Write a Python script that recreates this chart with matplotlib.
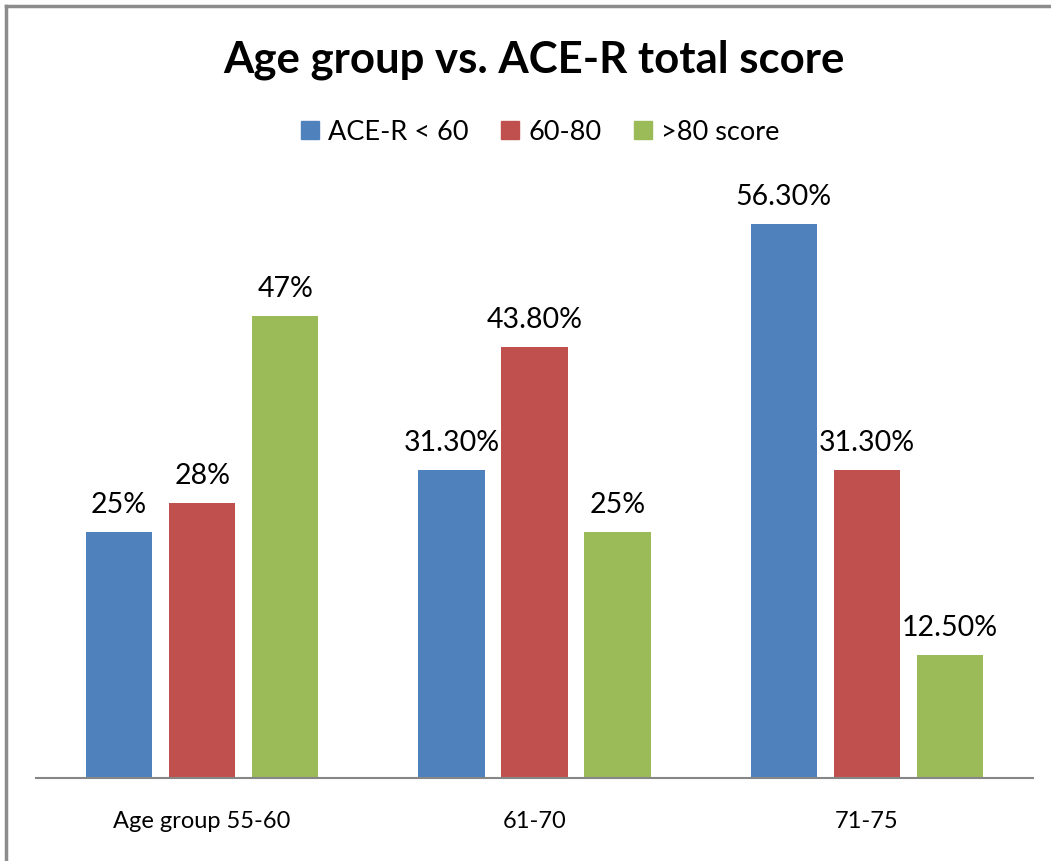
import matplotlib
matplotlib.use("Agg")
import matplotlib.pyplot as plt
import numpy as np
from matplotlib.lines import Line2D

categories = ["Age group 55-60", "61-70", "71-75"]
series_names = ["ACE-R < 60", "60-80", ">80 score"]
ace_below_60 = [25.0, 31.3, 56.3]
ace_60_80 = [28.0, 43.8, 31.3]
ace_above_80 = [47.0, 25.0, 12.5]
value_labels = [
    ["25%", "31.30%", "56.30%"],
    ["28%", "43.80%", "31.30%"],
    ["47%", "25%", "12.50%"],
]
colors = ["#4F81BD", "#C0504D", "#9BBB59"]

plt.rcParams["font.family"] = ["Lato", "DejaVu Sans"]

W, H = 1051, 861
fig = plt.figure(figsize=(W / 100, H / 100), dpi=100)

# plot area in pixel terms
left, right, base, top = 36, 1033, 778, 188
ax = fig.add_axes([left / W, (H - base) / H, (right - left) / W, (base - top) / H])

x = np.arange(len(categories))
series = [ace_below_60, ace_60_80, ace_above_80]
offsets = [-0.25, 0.0, 0.25]
width = 0.2
for vals, off, col, name, labs in zip(series, offsets, colors, series_names, value_labels):
    bars = ax.bar(x + off, vals, width, color=col, label=name, zorder=2)
    for b, lab in zip(bars, labs):
        ax.annotate(lab, (b.get_x() + b.get_width() / 2, b.get_height()),
                    xytext=(0, 19.5), textcoords="offset points",
                    ha="center", va="center", fontsize=20.5, color="#000000")

ax.set_xlim(-0.5, 2.5)
ax.set_ylim(0, 60)
ax.set_yticks([])
ax.set_xticks(x)
ax.set_xticklabels(categories, fontsize=17)
ax.tick_params(axis="x", length=0, pad=24)
for s in ["top", "right", "left"]:
    ax.spines[s].set_visible(False)
ax.spines["bottom"].set_color("#868686")
ax.spines["bottom"].set_linewidth(1.5)

fig.text(534 / W, 1 - 60 / H, "Age group vs. ACE-R total score",
         ha="center", va="center", fontsize=31.5, fontweight="bold")

handles = [plt.Rectangle((0, 0), 1, 1, color=c) for c in colors]
fig.legend(handles, series_names, loc="center", bbox_to_anchor=(540 / W, 1 - 132 / H),
           ncol=3, frameon=False, fontsize=19.5, handlelength=0.68, handleheight=0.68,
           handletextpad=0.32, columnspacing=1.2, borderpad=0, borderaxespad=0)

# chart border (left and top edges)
fig.add_artist(Line2D([6 / W, 6 / W], [0, 1 - 6 / H], transform=fig.transFigure,
                      color="#8C8C8C", linewidth=2.5))
fig.add_artist(Line2D([6 / W, 1], [1 - 6 / H, 1 - 6 / H], transform=fig.transFigure,
                      color="#8C8C8C", linewidth=2.5))

fig.savefig("out.png", dpi=100)
